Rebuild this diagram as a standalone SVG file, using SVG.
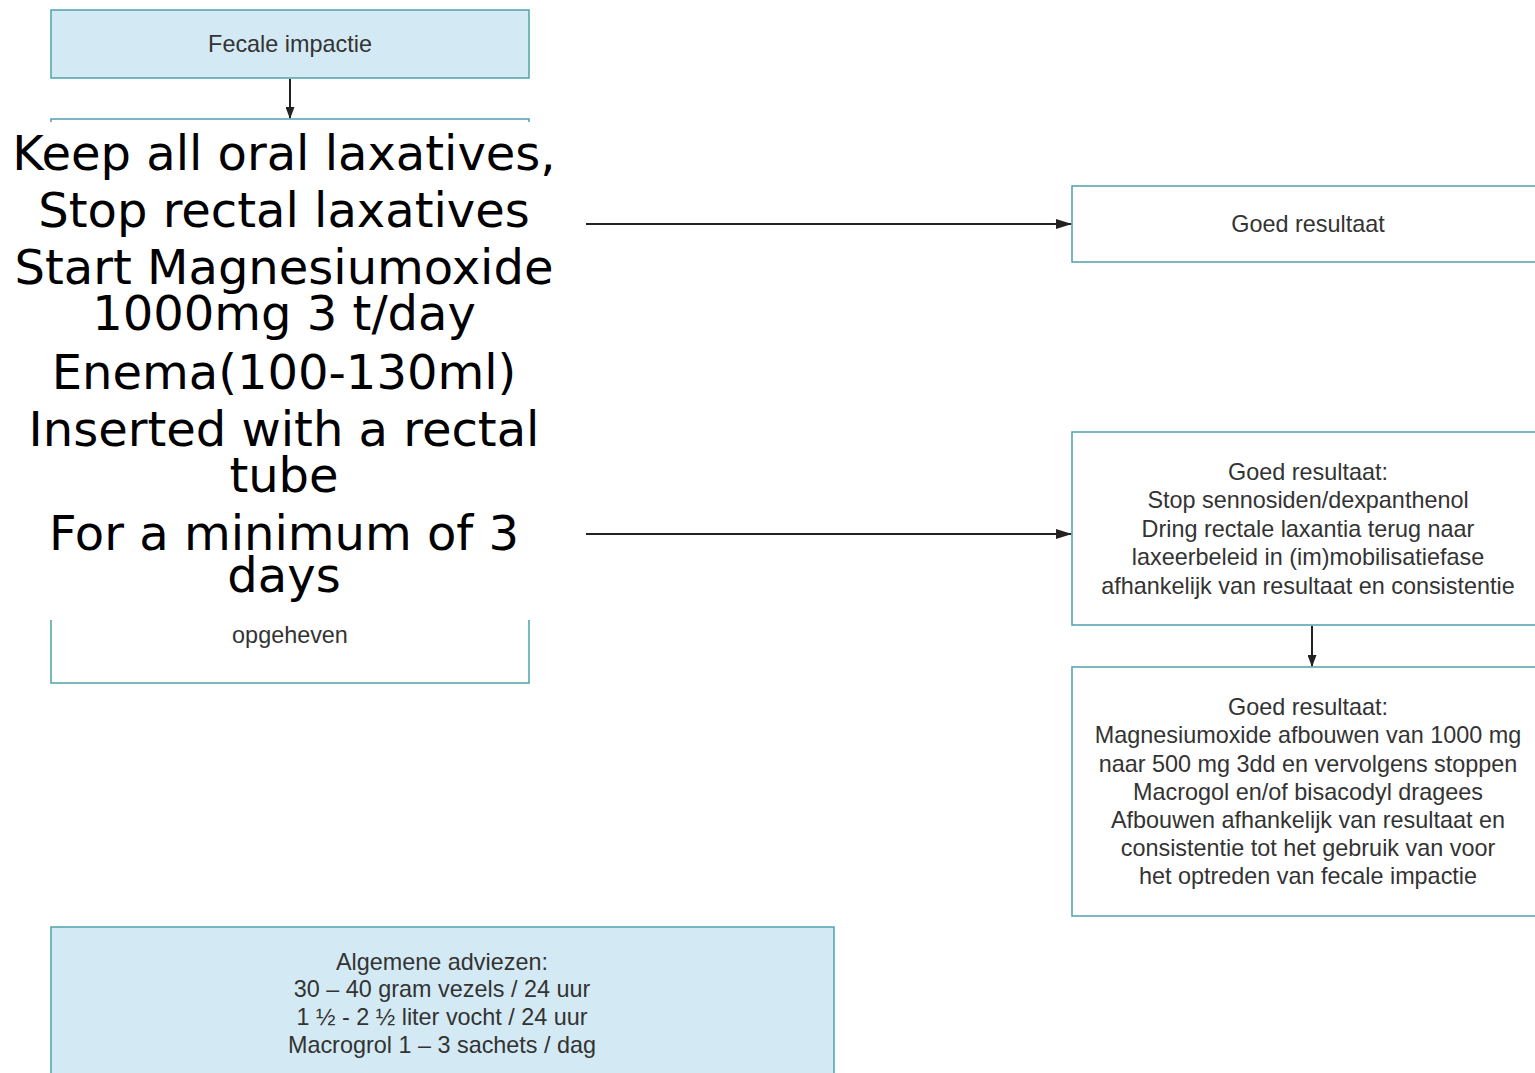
<svg xmlns="http://www.w3.org/2000/svg" width="1535" height="1073" viewBox="0 0 1535 1073">
<style>
.box{fill:#ffffff;stroke:#58a7b1;stroke-width:1.6}
.blue{fill:#d3eaf4;stroke:#58a7b1;stroke-width:1.6}
.t{font-family:"Liberation Sans",Arial,sans-serif;font-size:23.4px;fill:#333333;text-anchor:middle}
.big{font-family:"DejaVu Sans",Verdana,sans-serif;font-size:48px;fill:#000000;text-anchor:middle}
.con{stroke:#222222;stroke-width:2;fill:none}
</style>
<defs>
<marker id="ah" markerWidth="12" markerHeight="9" refX="11" refY="4.5" orient="auto" markerUnits="userSpaceOnUse" viewBox="0 0 12 9">
<path d="M0,0 L12,4.5 L0,9 Z" fill="#222222"/>
</marker>
<marker id="ah2" markerWidth="16" markerHeight="10" refX="15" refY="5" orient="auto" markerUnits="userSpaceOnUse" viewBox="0 0 16 10">
<path d="M0,0 L16,5 L0,10 Z" fill="#222222"/>
</marker>
</defs>
<rect width="1535" height="1073" fill="#ffffff"/>

<g id="node-fecale">
<rect class="blue" x="51" y="10" width="478" height="68"/>
<text class="t" x="290" y="52">Fecale impactie</text>
</g>

<g id="node-behandeling">
<rect class="box" x="51" y="119" width="478" height="564"/>
<text class="t" x="290" y="643">opgeheven</text>
<rect x="0" y="122" width="578" height="498" fill="#ffffff"/>
<text class="big" x="284" y="170">Keep all oral laxatives,</text>
<text class="big" x="284" y="227">Stop rectal laxatives</text>
<text class="big" x="284" y="284">Start Magnesiumoxide</text>
<text class="big" x="284" y="330">1000mg 3 t/day</text>
<text class="big" x="284" y="389">Enema(100-130ml)</text>
<text class="big" x="284" y="446">Inserted with a rectal</text>
<text class="big" x="284" y="492">tube</text>
<text class="big" x="284" y="550">For a minimum of 3</text>
<text class="big" x="284" y="592">days</text>
</g>

<g id="node-goed1">
<rect class="box" x="1072" y="186" width="473" height="76"/>
<text class="t" x="1308" y="232">Goed resultaat</text>
</g>

<g id="node-goed2">
<rect class="box" x="1072" y="432" width="473" height="193"/>
<text class="t" x="1308" y="480">Goed resultaat:</text>
<text class="t" x="1308" y="508">Stop sennosiden/dexpanthenol</text>
<text class="t" x="1308" y="537">Dring rectale laxantia terug naar</text>
<text class="t" x="1308" y="565">laxeerbeleid in (im)mobilisatiefase</text>
<text class="t" x="1308" y="594">afhankelijk van resultaat en consistentie</text>
</g>

<g id="node-goed3">
<rect class="box" x="1072" y="667" width="473" height="249"/>
<text class="t" x="1308" y="715">Goed resultaat:</text>
<text class="t" x="1308" y="743">Magnesiumoxide afbouwen van 1000 mg</text>
<text class="t" x="1308" y="772">naar 500 mg 3dd en vervolgens stoppen</text>
<text class="t" x="1308" y="800">Macrogol en/of bisacodyl dragees</text>
<text class="t" x="1308" y="828">Afbouwen afhankelijk van resultaat en</text>
<text class="t" x="1308" y="856">consistentie tot het gebruik van voor</text>
<text class="t" x="1308" y="884">het optreden van fecale impactie</text>
</g>

<g id="node-adviezen">
<rect class="blue" x="51" y="927" width="783" height="160"/>
<text class="t" x="442" y="970">Algemene adviezen:</text>
<text class="t" x="442" y="997">30 – 40 gram vezels / 24 uur</text>
<text class="t" x="442" y="1025">1 ½ - 2 ½ liter vocht / 24 uur</text>
<text class="t" x="442" y="1053">Macrogrol 1 – 3 sachets / dag</text>
</g>

<g id="connectors">
<line class="con" x1="290" y1="79" x2="290" y2="118" marker-end="url(#ah)"/>
<line class="con" x1="586" y1="224" x2="1071" y2="224" marker-end="url(#ah2)"/>
<line class="con" x1="586" y1="534" x2="1071" y2="534" marker-end="url(#ah2)"/>
<line class="con" x1="1312" y1="626" x2="1312" y2="666" marker-end="url(#ah)"/>
</g>
</svg>
